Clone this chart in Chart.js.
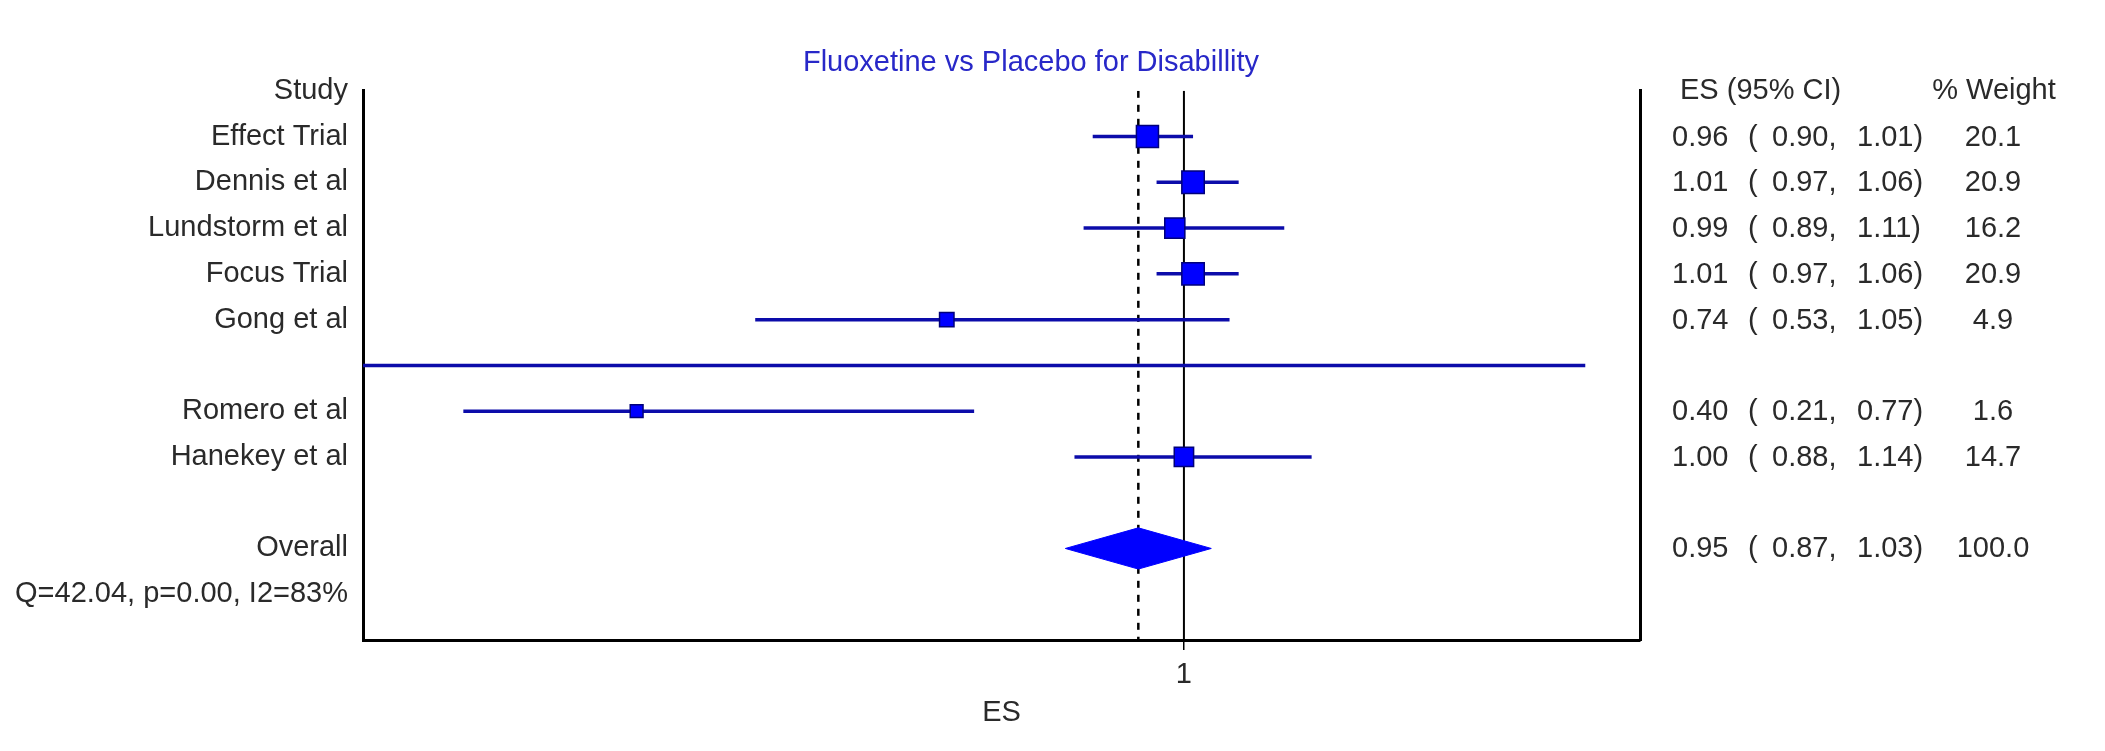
<!DOCTYPE html>
<html>
<head>
<meta charset="utf-8">
<script src="https://cdn.jsdelivr.net/npm/chart.js@4.4.1/dist/chart.umd.min.js"></script>
<style>
  html, body { margin: 0; padding: 0; background: #fff; }
  canvas { display: block; }
</style>
</head>
<body>
<canvas id="forest" width="2105" height="751"></canvas>
<script>
// ---- data ----
const chartTitle = 'Fluoxetine vs Placebo for Disabillity';
const studies = ['Effect Trial', 'Dennis et al', 'Lundstorm et al', 'Focus Trial', 'Gong et al', '', 'Romero et al', 'Hanekey et al'];
const effectSizes = [0.96, 1.01, 0.99, 1.01, 0.74, null, 0.40, 1.00];
const ciLow = [0.90, 0.97, 0.89, 0.97, 0.53, 0.10, 0.21, 0.88];
const ciHigh = [1.01, 1.06, 1.11, 1.06, 1.05, 1.44, 0.77, 1.14];
const weights = [20.1, 20.9, 16.2, 20.9, 4.9, null, 1.6, 14.7];
const overallLabel = 'Overall';
const overallEs = 0.95;
const overallCI = [0.87, 1.03];
const overallWeight = 100.0;
const heterogeneity = 'Q=42.04, p=0.00, I2=83%';
const studyHeader = 'Study';
const esHeader = 'ES (95% CI)';
const weightHeader = '% Weight';
const xAxisTitle = 'ES';
const xTicks = [1];
const xRange = [0.1, 1.5];
const nullEffect = 1;

// ---- row layout: header, studies, gap, overall, heterogeneity ----
const rowLabels = [studyHeader, ...studies, '', overallLabel, heterogeneity];
const studyRow = i => i + 1;
const overallRow = rowLabels.indexOf(overallLabel);
const rowCount = rowLabels.length + 1;

// ---- styles ----
const FONT = "'Liberation Sans', Arial, sans-serif";
const FONT_SIZE = 29;
const TEXT = '#2a2a2a';
const CI_COLOR = '#0c0caa';
const MARK_FILL = '#0000ff';
const MARK_EDGE = '#00007a';
const DIAMOND_HALF = 0.45;   // half height of the pooled diamond, in rows
const squareSide = w => 12 + 0.5 * w;

Chart.defaults.font.family = FONT;
Chart.defaults.font.size = FONT_SIZE;
Chart.defaults.color = TEXT;

const datasets = [];

// reference lines (null effect and pooled estimate)
datasets.push({
  data: [{ x: nullEffect, y: 0 }, { x: nullEffect, y: rowCount - 1 }],
  showLine: true, borderColor: '#000', borderWidth: 2, pointRadius: 0, order: 5
});
datasets.push({
  data: [{ x: overallEs, y: 0 }, { x: overallEs, y: rowCount - 1 }],
  showLine: true, borderColor: '#000', borderWidth: 2.5, borderDash: [7, 7], pointRadius: 0, order: 5
});

// confidence interval lines
studies.forEach((s, i) => {
  datasets.push({
    data: [{ x: ciLow[i], y: studyRow(i) }, { x: ciHigh[i], y: studyRow(i) }],
    showLine: true, borderColor: CI_COLOR, borderWidth: 3.5, pointRadius: 0, order: 3
  });
});

// study estimates, square size from weight
const markIdx = effectSizes.map((v, i) => i).filter(i => effectSizes[i] !== null);
datasets.push({
  data: markIdx.map(i => ({ x: effectSizes[i], y: studyRow(i) })),
  pointStyle: 'rect',
  pointRadius: markIdx.map(i => squareSide(weights[i]) / Math.SQRT2),
  backgroundColor: MARK_FILL, borderColor: MARK_EDGE, borderWidth: 1.5,
  showLine: false, order: 1
});

// pooled estimate diamond
datasets.push({
  data: [
    { x: overallCI[0], y: overallRow },
    { x: overallEs, y: overallRow - DIAMOND_HALF },
    { x: overallCI[1], y: overallRow },
    { x: overallEs, y: overallRow + DIAMOND_HALF },
    { x: overallCI[0], y: overallRow }
  ],
  showLine: true, fill: 'shape', backgroundColor: MARK_FILL, borderColor: MARK_FILL,
  borderWidth: 1, pointRadius: 0, tension: 0, order: 1
});

// ES / CI / weight columns to the right of the plot
const sideTable = {
  id: 'sideTable',
  afterDraw(chart) {
    const { ctx, chartArea, scales: { y } } = chart;
    const x0 = chartArea.right;
    ctx.save();
    ctx.font = `${FONT_SIZE}px ${FONT}`;
    ctx.fillStyle = TEXT;
    ctx.textBaseline = 'middle';
    const yh = y.getPixelForValue(0);
    ctx.textAlign = 'left';
    ctx.fillText(esHeader, x0 + 40, yh);
    ctx.textAlign = 'center';
    ctx.fillText(weightHeader, x0 + 354, yh);
    const rows = markIdx.map(i => [studyRow(i), effectSizes[i], ciLow[i], ciHigh[i], weights[i]]);
    rows.push([overallRow, overallEs, overallCI[0], overallCI[1], overallWeight]);
    rows.forEach(([r, e, lo, hi, w]) => {
      const py = y.getPixelForValue(r) + 1;
      ctx.textAlign = 'left';
      ctx.fillText(e.toFixed(2), x0 + 32, py);
      ctx.fillText('(', x0 + 108, py);
      ctx.fillText(lo.toFixed(2) + ',', x0 + 132, py);
      ctx.fillText(hi.toFixed(2) + ')', x0 + 217, py);
      ctx.textAlign = 'center';
      ctx.fillText(w.toFixed(1), x0 + 353, py);
    });
    ctx.restore();
  }
};

new Chart(document.getElementById('forest'), {
  type: 'scatter',
  data: { datasets },
  plugins: [sideTable],
  options: {
    responsive: false,
    animation: false,
    devicePixelRatio: 1,
    layout: { padding: { left: 0, right: 43, top: 0, bottom: 0 } },
    plugins: {
      legend: { display: false },
      tooltip: { enabled: false },
      title: {
        display: true, text: chartTitle, color: '#2828c8',
        font: { size: FONT_SIZE, weight: 'normal' },
        padding: { top: 46, bottom: 10 }
      }
    },
    scales: {
      x: {
        type: 'linear', min: xRange[0], max: xRange[1],
        afterBuildTicks: s => { s.ticks = xTicks.map(v => ({ value: v })); },
        ticks: { color: TEXT, padding: 8, autoSkip: false, maxRotation: 0 },
        grid: { drawOnChartArea: false, drawTicks: true, tickLength: 10, color: '#000', lineWidth: 1.5 },
        border: { display: true, color: '#000', width: 3 },
        title: { display: true, text: xAxisTitle, color: TEXT, padding: { top: 0, bottom: 21 } },
        afterFit: s => { s.height = 111; }
      },
      y: {
        type: 'linear', position: 'left', min: 0, max: rowCount - 1, reverse: true,
        afterBuildTicks: s => { s.ticks = rowLabels.map((_, i) => ({ value: i })); },
        ticks: { callback: v => rowLabels[v] ?? '', color: TEXT, padding: 15, autoSkip: false },
        grid: { display: false, drawTicks: false },
        border: { display: true, color: '#000', width: 3 },
        afterFit: s => { s.width = 363; }
      },
      y2: {
        type: 'linear', position: 'right', min: 0, max: rowCount - 1, reverse: true,
        ticks: { display: false },
        grid: { display: false, drawTicks: false },
        border: { display: true, color: '#000', width: 3 },
        afterFit: s => { s.width = 422; }
      }
    }
  }
});
</script>
</body>
</html>
